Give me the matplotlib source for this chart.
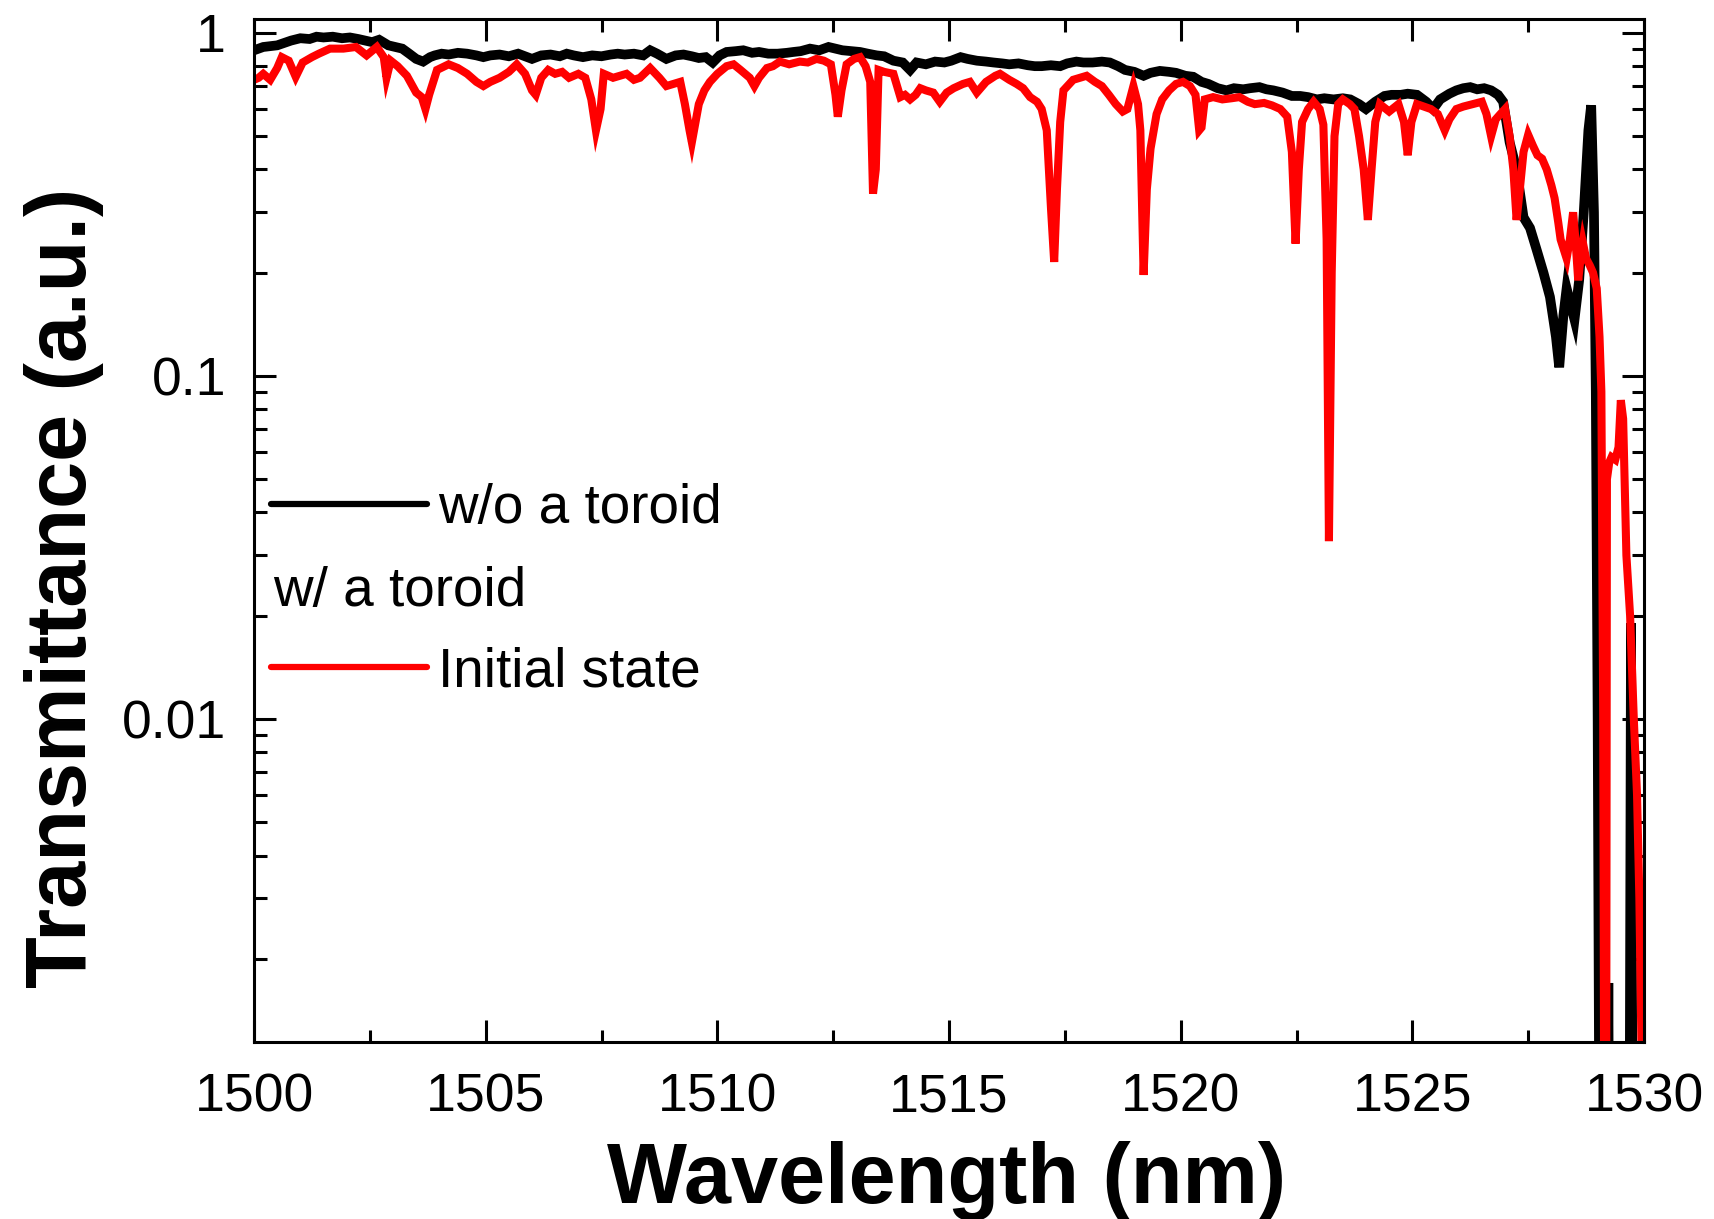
import matplotlib
matplotlib.use("Agg")
import matplotlib.pyplot as plt
from matplotlib.ticker import LogLocator, FixedFormatter, FixedLocator, NullFormatter, MultipleLocator

plt.rcParams['font.family'] = ['Liberation Sans', 'DejaVu Sans']

# ---- data ----
wl_black = [1500.0, 1500.2, 1500.5, 1500.8, 1501.0, 1501.2, 1501.35, 1501.5, 1501.7, 1501.9,
            1502.07, 1502.25, 1502.4, 1502.55, 1502.7, 1502.9, 1503.05, 1503.2, 1503.35, 1503.5,
            1503.65, 1503.8, 1503.9, 1504.05, 1504.2, 1504.4, 1504.6, 1504.8, 1504.95, 1505.1,
            1505.3, 1505.5, 1505.7, 1505.85, 1506.0, 1506.2, 1506.4, 1506.6, 1506.75, 1506.9,
            1507.1, 1507.3, 1507.5, 1507.7, 1507.85, 1508.0, 1508.2, 1508.4, 1508.55, 1508.7,
            1508.9, 1509.1, 1509.27, 1509.45, 1509.6, 1509.75, 1509.9, 1510.05, 1510.2, 1510.4,
            1510.56, 1510.75, 1510.9, 1511.1, 1511.3, 1511.5, 1511.64, 1511.8, 1512.0, 1512.2,
            1512.4, 1512.55, 1512.7, 1512.9, 1513.08, 1513.25, 1513.44, 1513.6, 1513.8, 1514.0,
            1514.16, 1514.3, 1514.5, 1514.7, 1514.9, 1515.05, 1515.25, 1515.4, 1515.6, 1515.8,
            1515.96, 1516.15, 1516.3, 1516.5, 1516.7, 1516.85, 1517.0, 1517.2, 1517.4, 1517.55,
            1517.75, 1517.9, 1518.1, 1518.3, 1518.47, 1518.65, 1518.8, 1519.0, 1519.2, 1519.35,
            1519.55, 1519.75, 1519.9, 1520.1, 1520.27, 1520.45, 1520.6, 1520.8, 1520.99, 1521.15,
            1521.35, 1521.5, 1521.7, 1521.85, 1522.0, 1522.2, 1522.4, 1522.58, 1522.75, 1522.94,
            1523.1, 1523.3, 1523.5, 1523.66, 1523.85, 1524.0, 1524.2, 1524.4, 1524.55, 1524.75,
            1524.9, 1525.1, 1525.3, 1525.45, 1525.6, 1525.8, 1525.95, 1526.1, 1526.25, 1526.4,
            1526.55, 1526.7, 1526.85, 1526.96, 1527.1, 1527.25, 1527.4, 1527.54, 1527.68, 1527.83,
            1527.97, 1528.1, 1528.17, 1528.26, 1528.33, 1528.4, 1528.5, 1528.6, 1528.7, 1528.8,
            1528.86, 1528.92, 1528.96, 1529.0, 1529.05, 1529.2, 1529.23, 1529.26, 1529.68, 1529.72,
            1529.76, 1530.0]
T_black = [0.89, 0.91, 0.92, 0.95, 0.965, 0.96, 0.975, 0.97, 0.975, 0.965,
           0.97, 0.96, 0.95, 0.94, 0.955, 0.92, 0.91, 0.9, 0.87, 0.84,
           0.825, 0.85, 0.86, 0.87, 0.865, 0.875, 0.87, 0.86, 0.85, 0.86,
           0.865, 0.855, 0.87, 0.855, 0.84, 0.86, 0.865, 0.855, 0.87, 0.86,
           0.85, 0.86, 0.855, 0.865, 0.87, 0.865, 0.87, 0.86, 0.89, 0.87,
           0.84, 0.86, 0.865, 0.855, 0.845, 0.85, 0.82, 0.86, 0.88, 0.885,
           0.89, 0.875, 0.88, 0.87, 0.87, 0.875, 0.88, 0.885, 0.9, 0.89,
           0.91, 0.9, 0.89, 0.885, 0.88, 0.87, 0.86, 0.855, 0.83, 0.82,
           0.78, 0.82, 0.81, 0.825, 0.82, 0.83, 0.85, 0.84, 0.83, 0.825,
           0.82, 0.815, 0.81, 0.815, 0.805, 0.80, 0.80, 0.805, 0.80, 0.815,
           0.825, 0.82, 0.82, 0.825, 0.82, 0.80, 0.78, 0.77, 0.75, 0.765,
           0.775, 0.77, 0.765, 0.75, 0.745, 0.72, 0.71, 0.69, 0.68, 0.69,
           0.685, 0.69, 0.695, 0.685, 0.68, 0.67, 0.655, 0.655, 0.65, 0.64,
           0.645, 0.64, 0.645, 0.64, 0.62, 0.60, 0.63, 0.655, 0.66, 0.66,
           0.665, 0.66, 0.63, 0.60, 0.64, 0.665, 0.68, 0.69, 0.695, 0.685,
           0.69, 0.68, 0.66, 0.63, 0.48, 0.40, 0.29, 0.27, 0.234, 0.20,
           0.17, 0.13, 0.106, 0.15, 0.18, 0.165, 0.146, 0.19, 0.30, 0.52,
           0.615, 0.30, 0.09, 0.01, 0.0002, 0.0002, 0.0017, 0.0002, 0.0002, 0.019,
           0.0002, 0.0002]

wl_red = [1500.0, 1500.1, 1500.2, 1500.35, 1500.5, 1500.6, 1500.75, 1500.9, 1501.05, 1501.25,
          1501.4, 1501.64, 1501.93, 1502.2, 1502.43, 1502.65, 1502.8, 1502.86, 1502.95, 1503.1,
          1503.3, 1503.5, 1503.62, 1503.7, 1503.78, 1503.95, 1504.2, 1504.4, 1504.6, 1504.8,
          1504.95, 1505.1, 1505.3, 1505.5, 1505.67, 1505.85, 1506.0, 1506.08, 1506.2, 1506.35,
          1506.5, 1506.65, 1506.8, 1507.0, 1507.15, 1507.28, 1507.38, 1507.48, 1507.55, 1507.75,
          1508.04, 1508.2, 1508.33, 1508.55, 1508.75, 1508.9, 1509.05, 1509.2, 1509.3, 1509.4,
          1509.45, 1509.52, 1509.6, 1509.72, 1509.84, 1510.0, 1510.2, 1510.35, 1510.5, 1510.7,
          1510.8, 1510.9, 1511.07, 1511.2, 1511.35, 1511.55, 1511.78, 1511.95, 1512.14, 1512.3,
          1512.45, 1512.55, 1512.6, 1512.68, 1512.79, 1512.95, 1513.08, 1513.2, 1513.3, 1513.36,
          1513.42, 1513.48, 1513.6, 1513.8, 1513.95, 1514.05, 1514.16, 1514.28, 1514.38, 1514.5,
          1514.66, 1514.8, 1514.95, 1515.1, 1515.3, 1515.45, 1515.6, 1515.8, 1516.0, 1516.1,
          1516.3, 1516.46, 1516.6, 1516.75, 1516.9, 1517.0, 1517.11, 1517.2, 1517.27, 1517.33,
          1517.4, 1517.47, 1517.68, 1517.97, 1518.15, 1518.3, 1518.45, 1518.6, 1518.75, 1518.85,
          1518.98, 1519.08, 1519.13, 1519.2, 1519.27, 1519.35, 1519.48, 1519.6, 1519.75, 1519.9,
          1520.05, 1520.2, 1520.32, 1520.4, 1520.45, 1520.52, 1520.7, 1520.9, 1521.1, 1521.27,
          1521.45, 1521.6, 1521.8, 1521.97, 1522.15, 1522.3, 1522.4, 1522.48, 1522.55, 1522.62,
          1522.75, 1522.87, 1523.0, 1523.08, 1523.15, 1523.2, 1523.26, 1523.32, 1523.4, 1523.5,
          1523.65, 1523.75, 1523.85, 1523.95, 1524.04, 1524.12, 1524.2, 1524.3, 1524.5, 1524.7,
          1524.82, 1524.9, 1524.98, 1525.1, 1525.25, 1525.4, 1525.55, 1525.7, 1525.8, 1525.95,
          1526.1, 1526.3, 1526.5, 1526.6, 1526.7, 1526.8, 1526.9, 1527.0, 1527.1, 1527.18,
          1527.25, 1527.32, 1527.4, 1527.5, 1527.6, 1527.7, 1527.8, 1527.9, 1528.0, 1528.07,
          1528.15, 1528.2, 1528.33, 1528.4, 1528.47, 1528.52, 1528.58, 1528.63, 1528.68, 1528.75,
          1528.83, 1528.9, 1528.98, 1529.04, 1529.08, 1529.12, 1529.15, 1529.18, 1529.2, 1529.25,
          1529.3, 1529.38, 1529.45, 1529.5, 1529.55, 1529.58, 1529.62, 1529.7, 1529.78, 1529.85,
          1529.9, 1529.95, 1530.0]
T_red = [0.73, 0.74, 0.76, 0.73, 0.79, 0.85, 0.83, 0.745, 0.82, 0.85,
         0.87, 0.9, 0.9, 0.91, 0.86, 0.91, 0.85, 0.74, 0.83, 0.8,
         0.75, 0.67, 0.65, 0.60, 0.66, 0.78, 0.81, 0.79, 0.76, 0.72,
         0.70, 0.72, 0.74, 0.77, 0.81, 0.76, 0.68, 0.66, 0.74, 0.78,
         0.76, 0.77, 0.74, 0.76, 0.74, 0.64, 0.52, 0.60, 0.76, 0.74,
         0.76, 0.73, 0.74, 0.79, 0.74, 0.70, 0.71, 0.72, 0.62, 0.52,
         0.48, 0.54, 0.62, 0.68, 0.72, 0.76, 0.80, 0.81, 0.78, 0.74,
         0.70, 0.74, 0.79, 0.80, 0.825, 0.81, 0.825, 0.82, 0.84, 0.83,
         0.81, 0.66, 0.57, 0.68, 0.81, 0.84, 0.85, 0.80, 0.72, 0.34,
         0.40, 0.78, 0.77, 0.76, 0.65, 0.66, 0.64, 0.66, 0.69, 0.68,
         0.67, 0.63, 0.67, 0.69, 0.71, 0.72, 0.67, 0.72, 0.75, 0.76,
         0.73, 0.71, 0.69, 0.65, 0.63, 0.60, 0.52, 0.31, 0.215, 0.35,
         0.55, 0.68, 0.73, 0.75, 0.72, 0.70, 0.66, 0.62, 0.59, 0.60,
         0.70, 0.62, 0.52, 0.197, 0.35, 0.46, 0.58, 0.64, 0.68, 0.71,
         0.72, 0.70, 0.66, 0.52, 0.53, 0.64, 0.65, 0.64, 0.645, 0.65,
         0.63, 0.62, 0.625, 0.615, 0.60, 0.57, 0.45, 0.243, 0.40, 0.55,
         0.60, 0.63, 0.60, 0.54, 0.25, 0.033, 0.2, 0.5, 0.62, 0.64,
         0.62, 0.60, 0.50, 0.40, 0.285, 0.40, 0.55, 0.62, 0.59, 0.62,
         0.55, 0.44, 0.55, 0.62, 0.61, 0.60, 0.58, 0.52, 0.56, 0.60,
         0.61, 0.62, 0.63, 0.58, 0.50, 0.56, 0.58, 0.60, 0.50, 0.40,
         0.285, 0.35, 0.45, 0.505, 0.47, 0.44, 0.43, 0.40, 0.36, 0.33,
         0.28, 0.25, 0.22, 0.25, 0.30, 0.25, 0.19, 0.22, 0.245, 0.22,
         0.21, 0.20, 0.18, 0.13, 0.09, 0.01, 0.0002, 0.0002, 0.05, 0.056,
         0.058, 0.057, 0.062, 0.085, 0.075, 0.05, 0.03, 0.02, 0.01, 0.006,
         0.003, 0.001, 0.0005]

label_black = "w/o a toroid"
label_group = "w/ a toroid"
label_red = "Initial state"

x_ticks = [1500, 1505, 1510, 1515, 1520, 1525, 1530]
y_ticks = [0.01, 0.1, 1]
y_ticklabels = ["0.01", "0.1", "1"]

# ---- figure ----
W, H = 1715, 1219
fig = plt.figure(figsize=(W / 100, H / 100), dpi=100)
ax = fig.add_axes([254 / W, 1 - 1042 / H, 1390 / W, 1023 / H])

ax.plot(wl_black, T_black, color='black', lw=7.0, solid_joinstyle='miter')
ax.plot(wl_red, T_red, color='#ff0000', lw=5.8, solid_joinstyle='miter')

ax.set_yscale('log')
ax.set_xlim(1500, 1530)
ax.set_ylim(0.001144, 1.098)

ax.xaxis.set_major_locator(FixedLocator(x_ticks))
ax.xaxis.set_minor_locator(MultipleLocator(2.5))
ax.yaxis.set_major_locator(FixedLocator(y_ticks))
ax.yaxis.set_major_formatter(FixedFormatter(y_ticklabels))
ax.yaxis.set_minor_locator(LogLocator(base=10, subs=range(2, 10), numticks=20))
ax.yaxis.set_minor_formatter(NullFormatter())

for s in ax.spines.values():
    s.set_linewidth(2.2)

ax.tick_params(which='both', direction='in', top=True, right=True, width=2.2,
               labelsize=38.5, color='black')
ax.tick_params(which='major', length=16)
ax.tick_params(which='minor', length=9)
ax.tick_params(axis='x', which='major', pad=22)
ax.tick_params(axis='y', which='major', pad=20)

# axis labels
fig.text(947 / W, 1 - 1203 / H, "Wavelength (nm)", fontsize=61, fontweight='bold',
         ha='center', va='baseline')
fig.text(86 / W, 1 - 588 / H, "Transmittance (a.u.)", fontsize=61, fontweight='bold',
         ha='center', va='baseline', rotation=90, rotation_mode='anchor')

# legend (manual, as in the reference)
ax.plot([0.0122, 0.1245], [0.526, 0.526], color='black', lw=4.5, transform=ax.transAxes,
        solid_capstyle='round')
ax.plot([0.0122, 0.1245], [0.3666, 0.3666], color='#ff0000', lw=4.5, transform=ax.transAxes,
        solid_capstyle='round')
ax.text(0.1324, 0.521, label_black, transform=ax.transAxes, fontsize=39.5, va='center', ha='left')
ax.text(0.0137, 0.4395, label_group, transform=ax.transAxes, fontsize=39.5, va='center', ha='left')
ax.text(0.1324, 0.3615, label_red, transform=ax.transAxes, fontsize=39.5, va='center', ha='left')

fig.savefig("out.png", dpi=100)
